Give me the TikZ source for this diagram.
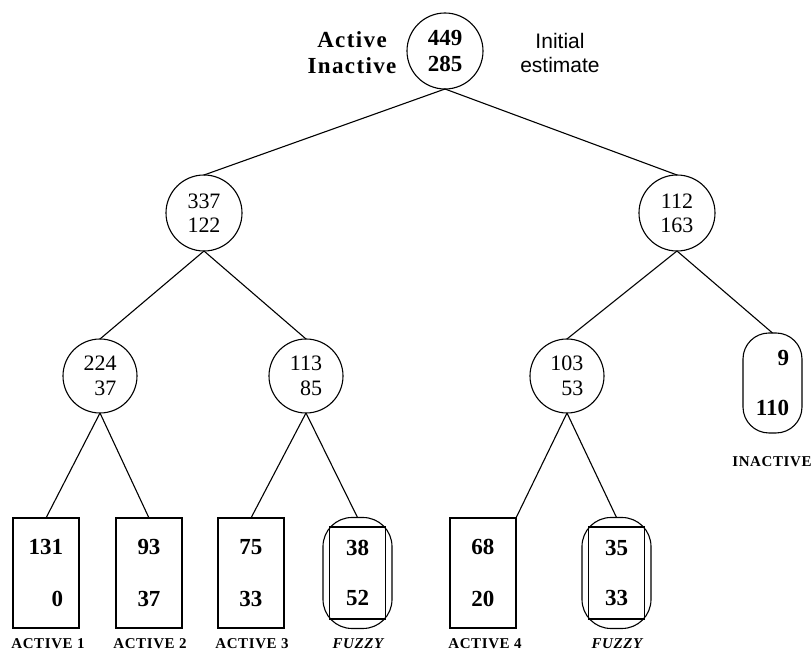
\documentclass[tikz,border=0pt]{standalone}
\usepackage{fontspec}
\setmainfont{Liberation Serif}
\newfontfamily\notefont{Liberation Sans}
\usetikzlibrary{shapes.geometric}
\begin{document}
\begin{tikzpicture}[x=0.5pt,y=-0.5pt,
  every node/.style={inner sep=0pt, outer sep=0pt},
  lw/.style={line width=0.55pt},
  rootcirc/.style={draw, lw, circle, minimum size=38pt, align=center,
    font=\fontsize{11.5}{13}\selectfont\bfseries},
  midcirc/.style={draw, lw, circle, minimum size=38pt, align=center,
    font=\fontsize{11}{12}\selectfont},
  lowcirc/.style={draw, lw, circle, minimum size=37pt, align=right,
    font=\fontsize{11}{12.5}\selectfont},
  leafbox/.style={draw, lw, rectangle, minimum width=33pt, minimum height=55pt, align=right,
    font=\fontsize{11.5}{26}\selectfont\bfseries},
  fuzzbox/.style={draw, lw, rectangle, minimum width=28pt, minimum height=46pt, align=right,
    font=\fontsize{11.5}{25}\selectfont\bfseries},
  fuzzell/.style={draw, lw, rectangle, rounded corners=14.5pt, minimum width=34.5pt, minimum height=55.5pt},
  inbox/.style={draw, lw, rectangle, rounded corners=13pt, minimum width=29.5pt, minimum height=50pt,
    align=right, font=\fontsize{11.5}{25}\selectfont\bfseries},
  tag/.style={font=\fontsize{7.5}{9}\selectfont\bfseries\addfontfeatures{LetterSpace=4}},
  side/.style={font=\fontsize{11.5}{13}\selectfont\bfseries\addfontfeatures{LetterSpace=6}, align=center},
  note/.style={font=\notefont\fontsize{10.5}{12.5}\selectfont, align=center},
  edge/.style={lw}
]
\useasboundingbox (0,0) rectangle (811,657);

% root
\node[rootcirc] (root) at (445,51) {449\\285};
\node[side] (lbl) at (352,53) {Active\\Inactive};
\node[note] (init) at (560,53) {Initial\\estimate};

% level 2
\node[midcirc] (L) at (204,213) {337\\122};
\node[midcirc] (R) at (677,213) {112\\163};

% level 3
\node[lowcirc] (LL) at (100,376) {224\\37};
\node[lowcirc] (LR) at (306,376) {113\\85};
\node[lowcirc] (RL) at (567,376) {103\\53};
\node[inbox]   (RR) at (772.5,383) {9\\110};
\node[tag]     (tRR) at (772,462) {INACTIVE};

% leaves
\node[leafbox] (A1) at (46,573) {131\\0};
\node[leafbox] (A2) at (149,573) {93\\37};
\node[leafbox] (A3) at (251,573) {75\\33};
\node[fuzzell] (F1e) at (357.5,573) {};
\node[fuzzbox] (F1) at (357.5,573) {38\\52};
\node[leafbox] (A4) at (483,573) {68\\20};
\node[fuzzell] (F2e) at (616.5,573) {};
\node[fuzzbox] (F2) at (616.5,573) {35\\33};

% labels
\node[tag] (t1) at (48,644) {ACTIVE 1};
\node[tag] (t2) at (150,644) {ACTIVE 2};
\node[tag] (t3) at (252,644) {ACTIVE 3};
\node[tag] (t4) at (358,644) {\itshape FUZZY};
\node[tag] (t5) at (485,644) {ACTIVE 4};
\node[tag] (t6) at (617,644) {\itshape FUZZY};

% connectors
\draw[edge] (root.south) -- (L.north);
\draw[edge] (root.south) -- (R.north);
\draw[edge] (L.south) -- (LL.north);
\draw[edge] (L.south) -- (LR.north);
\draw[edge] (R.south) -- (RL.north);
\draw[edge] (R.south) -- (RR.north);
\draw[edge] (LL.south) -- (A1.north);
\draw[edge] (LL.south) -- (A2.north);
\draw[edge] (LR.south) -- (A3.north);
\draw[edge] (LR.south) -- (F1e.north);
\draw[edge] (RL.south) -- (A4.north east);
\draw[edge] (RL.south) -- (F2e.north);
\end{tikzpicture}
\end{document}
